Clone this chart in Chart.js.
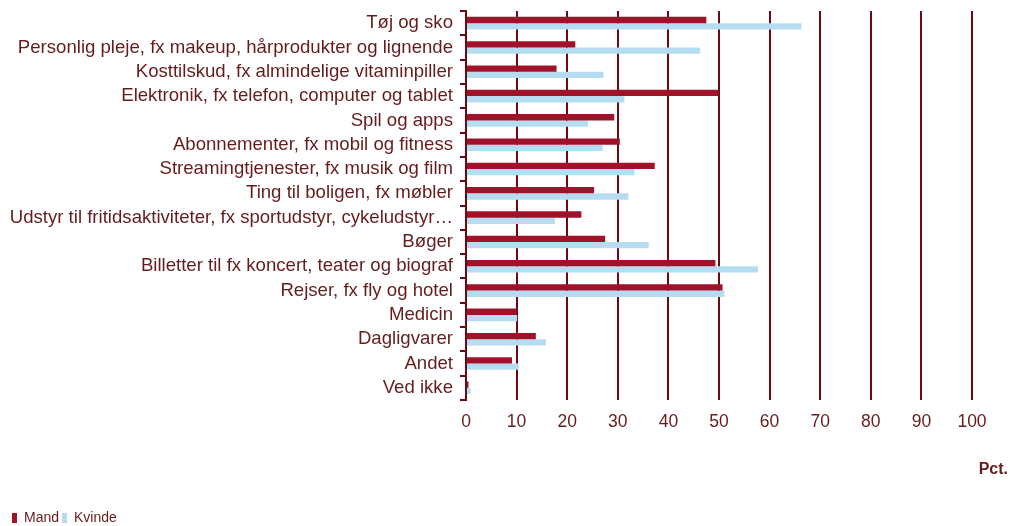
<!DOCTYPE html>
<html lang="da">
<head>
<meta charset="utf-8">
<script src="https://cdn.jsdelivr.net/npm/chart.js@4"></script>
<style>
  html, body { margin: 0; padding: 0; background: #fff; }
  #wrap { width: 1010px; height: 526px; position: relative; }
</style>
</head>
<body>
<div id="wrap"><canvas id="chart"></canvas></div>
<script>
// ─── Data ───
const categories = [
  'Tøj og sko',
  'Personlig pleje, fx makeup, hårprodukter og lignende',
  'Kosttilskud, fx almindelige vitaminpiller',
  'Elektronik, fx telefon, computer og tablet',
  'Spil og apps',
  'Abonnementer, fx mobil og fitness',
  'Streamingtjenester, fx musik og film',
  'Ting til boligen, fx møbler',
  'Udstyr til fritidsaktiviteter, fx sportudstyr, cykeludstyr…',
  'Bøger',
  'Billetter til fx koncert, teater og biograf',
  'Rejser, fx fly og hotel',
  'Medicin',
  'Dagligvarer',
  'Andet',
  'Ved ikke'
];
const mand   = [47.5, 21.6, 17.9, 49.9, 29.3, 30.4, 37.3, 25.3, 22.8, 27.5, 49.3, 50.7, 10.0, 13.8, 9.1, 0.5];
const kvinde = [66.3, 46.3, 27.2, 31.3, 24.1, 27.0, 33.3, 32.1, 17.6, 36.1, 57.7, 51.1, 10.1, 15.8, 10.4, 0.9];
const xTicks = [0, 10, 20, 30, 40, 50, 60, 70, 80, 90, 100];

// ─── Couleurs ───
const DARK  = '#6a0a12';
const TEXT  = '#661c1c';
const RED   = '#a0122a';
const BLUE  = '#b6dcf2';
const FONT  = "'Liberation Sans', Arial, sans-serif";

// "Pct." en bas à droite
const unitLabel = {
  id: 'unitLabel',
  afterDraw(chart) {
    const c = chart.ctx;
    c.save();
    c.font = "bold 16px 'Liberation Sans Narrow', 'Liberation Sans', sans-serif";
    c.fillStyle = TEXT;
    c.textAlign = 'right';
    c.textBaseline = 'middle';
    c.fillText('Pct.', chart.width - 2, chart.chartArea.bottom + 70);
    c.restore();
  }
};

new Chart(document.getElementById('chart'), {
  type: 'bar',
  data: {
    labels: categories,
    datasets: [
      { label: 'Mand',   data: mand,   backgroundColor: RED,  categoryPercentage: 0.52, barPercentage: 1.0 },
      { label: 'Kvinde', data: kvinde, backgroundColor: BLUE, categoryPercentage: 0.52, barPercentage: 1.0 }
    ]
  },
  plugins: [unitLabel],
  options: {
    indexAxis: 'y',
    responsive: true,
    maintainAspectRatio: false,
    animation: false,
    layout: { padding: { top: 11, right: 38, left: 9, bottom: -9 } },
    plugins: {
      tooltip: { enabled: false },
      legend: {
        position: 'bottom',
        align: 'start',
        labels: {
          boxWidth: 5,
          boxHeight: 10,
          padding: 3,
          color: TEXT,
          font: { family: FONT, size: 14 }
        }
      }
    },
    scales: {
      x: {
        min: 0,
        max: 100,
        afterBuildTicks: (axis) => { axis.ticks = xTicks.map(v => ({ value: v })); },
        grid: { color: DARK, lineWidth: 2, drawTicks: false },
        border: { display: false },
        ticks: {
          color: TEXT,
          padding: 12,
          font: { family: FONT, size: 17.5 }
        },
        afterFit: (axis) => { axis.height = 108; }
      },
      y: {
        grid: { drawOnChartArea: false, drawTicks: true, tickLength: 6, color: DARK, lineWidth: 2 },
        border: { display: true, color: DARK, width: 2 },
        ticks: {
          color: TEXT,
          padding: 7,
          autoSkip: false,
          font: { family: FONT, size: 18.6 }
        },
        afterFit: (axis) => {
          axis.width = 457;
          axis.paddingTop = 0;
          axis.paddingBottom = 0;
        }
      }
    }
  }
});
</script>
</body>
</html>
